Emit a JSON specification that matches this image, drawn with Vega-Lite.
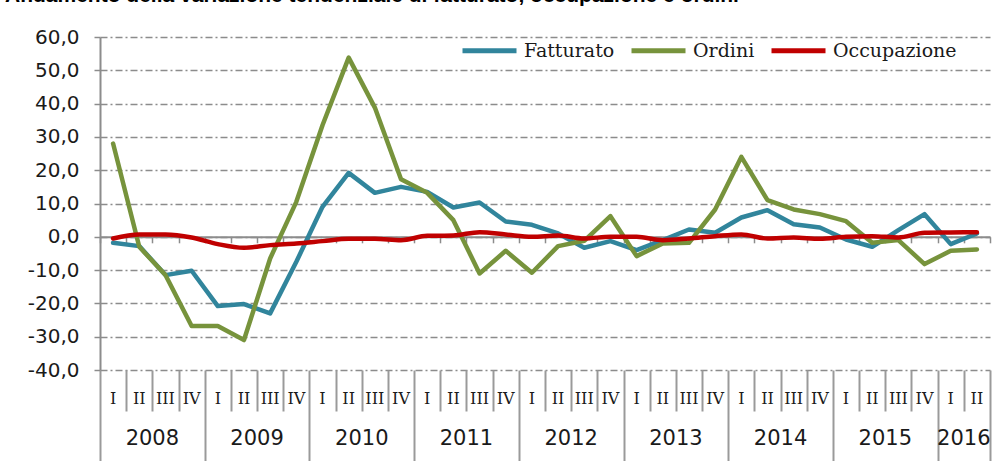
{
  "$schema": "https://vega.github.io/schema/vega-lite/v6.json",
  "width": 890,
  "height": 333,
  "autosize": {"type": "none"},
  "padding": {"left": 100, "top": 37, "right": 16, "bottom": 91},
  "background": "white",
  "config": {
    "view": {"stroke": null},
    "locale": {"number": {"decimal": ",", "thousands": ".", "grouping": [3], "currency": ["", " €"], "minus": "-"}}
  },
  "title": {
    "text": "Andamento della variazione tendenziale di fatturato, occupazione e ordini",
    "anchor": "start",
    "frame": "group",
    "dx": -95,
    "dy": 16,
    "offset": 14,
    "baseline": "alphabetic",
    "font": "Liberation Sans",
    "fontSize": 21,
    "fontWeight": "bold",
    "color": "#000000"
  },
  "datasets": {
    "serie": [
      {"q": "2008 I", "serie": "Fatturato", "v": -1.8},
      {"q": "2008 II", "serie": "Fatturato", "v": -2.8},
      {"q": "2008 III", "serie": "Fatturato", "v": -11.5},
      {"q": "2008 IV", "serie": "Fatturato", "v": -10.2},
      {"q": "2009 I", "serie": "Fatturato", "v": -20.8},
      {"q": "2009 II", "serie": "Fatturato", "v": -20.2},
      {"q": "2009 III", "serie": "Fatturato", "v": -23.0},
      {"q": "2009 IV", "serie": "Fatturato", "v": -7.5},
      {"q": "2010 I", "serie": "Fatturato", "v": 9.0},
      {"q": "2010 II", "serie": "Fatturato", "v": 19.2},
      {"q": "2010 III", "serie": "Fatturato", "v": 13.2},
      {"q": "2010 IV", "serie": "Fatturato", "v": 15.0},
      {"q": "2011 I", "serie": "Fatturato", "v": 13.5},
      {"q": "2011 II", "serie": "Fatturato", "v": 8.8},
      {"q": "2011 III", "serie": "Fatturato", "v": 10.3},
      {"q": "2011 IV", "serie": "Fatturato", "v": 4.6},
      {"q": "2012 I", "serie": "Fatturato", "v": 3.6},
      {"q": "2012 II", "serie": "Fatturato", "v": 1.0},
      {"q": "2012 III", "serie": "Fatturato", "v": -3.3},
      {"q": "2012 IV", "serie": "Fatturato", "v": -1.3},
      {"q": "2013 I", "serie": "Fatturato", "v": -4.0},
      {"q": "2013 II", "serie": "Fatturato", "v": -1.0},
      {"q": "2013 III", "serie": "Fatturato", "v": 2.2},
      {"q": "2013 IV", "serie": "Fatturato", "v": 1.2},
      {"q": "2014 I", "serie": "Fatturato", "v": 5.8},
      {"q": "2014 II", "serie": "Fatturato", "v": 8.0},
      {"q": "2014 III", "serie": "Fatturato", "v": 3.8},
      {"q": "2014 IV", "serie": "Fatturato", "v": 2.8},
      {"q": "2015 I", "serie": "Fatturato", "v": -0.8},
      {"q": "2015 II", "serie": "Fatturato", "v": -3.0},
      {"q": "2015 III", "serie": "Fatturato", "v": 2.0},
      {"q": "2015 IV", "serie": "Fatturato", "v": 6.8},
      {"q": "2016 I", "serie": "Fatturato", "v": -2.2},
      {"q": "2016 II", "serie": "Fatturato", "v": 1.0},
      {"q": "2008 I", "serie": "Ordini", "v": 28.0},
      {"q": "2008 II", "serie": "Ordini", "v": -3.0},
      {"q": "2008 III", "serie": "Ordini", "v": -11.5},
      {"q": "2008 IV", "serie": "Ordini", "v": -26.8},
      {"q": "2009 I", "serie": "Ordini", "v": -26.8},
      {"q": "2009 II", "serie": "Ordini", "v": -31.0},
      {"q": "2009 III", "serie": "Ordini", "v": -6.5},
      {"q": "2009 IV", "serie": "Ordini", "v": 10.5},
      {"q": "2010 I", "serie": "Ordini", "v": 33.5},
      {"q": "2010 II", "serie": "Ordini", "v": 53.8},
      {"q": "2010 III", "serie": "Ordini", "v": 38.8},
      {"q": "2010 IV", "serie": "Ordini", "v": 17.3},
      {"q": "2011 I", "serie": "Ordini", "v": 13.2},
      {"q": "2011 II", "serie": "Ordini", "v": 5.0},
      {"q": "2011 III", "serie": "Ordini", "v": -11.0},
      {"q": "2011 IV", "serie": "Ordini", "v": -4.2},
      {"q": "2012 I", "serie": "Ordini", "v": -10.8},
      {"q": "2012 II", "serie": "Ordini", "v": -2.8},
      {"q": "2012 III", "serie": "Ordini", "v": -1.2},
      {"q": "2012 IV", "serie": "Ordini", "v": 6.2},
      {"q": "2013 I", "serie": "Ordini", "v": -5.8},
      {"q": "2013 II", "serie": "Ordini", "v": -2.0},
      {"q": "2013 III", "serie": "Ordini", "v": -1.8},
      {"q": "2013 IV", "serie": "Ordini", "v": 8.2},
      {"q": "2014 I", "serie": "Ordini", "v": 24.0},
      {"q": "2014 II", "serie": "Ordini", "v": 11.0},
      {"q": "2014 III", "serie": "Ordini", "v": 8.2},
      {"q": "2014 IV", "serie": "Ordini", "v": 6.8},
      {"q": "2015 I", "serie": "Ordini", "v": 4.7},
      {"q": "2015 II", "serie": "Ordini", "v": -1.8},
      {"q": "2015 III", "serie": "Ordini", "v": -1.0},
      {"q": "2015 IV", "serie": "Ordini", "v": -8.2},
      {"q": "2016 I", "serie": "Ordini", "v": -4.2},
      {"q": "2016 II", "serie": "Ordini", "v": -3.8},
      {"q": "2008 I", "serie": "Occupazione", "v": -0.5},
      {"q": "2008 II", "serie": "Occupazione", "v": 0.7},
      {"q": "2008 III", "serie": "Occupazione", "v": 0.7},
      {"q": "2008 IV", "serie": "Occupazione", "v": -0.2},
      {"q": "2009 I", "serie": "Occupazione", "v": -2.2},
      {"q": "2009 II", "serie": "Occupazione", "v": -3.3},
      {"q": "2009 III", "serie": "Occupazione", "v": -2.5},
      {"q": "2009 IV", "serie": "Occupazione", "v": -2.0},
      {"q": "2010 I", "serie": "Occupazione", "v": -1.3},
      {"q": "2010 II", "serie": "Occupazione", "v": -0.6},
      {"q": "2010 III", "serie": "Occupazione", "v": -0.6},
      {"q": "2010 IV", "serie": "Occupazione", "v": -1.0},
      {"q": "2011 I", "serie": "Occupazione", "v": 0.3},
      {"q": "2011 II", "serie": "Occupazione", "v": 0.4},
      {"q": "2011 III", "serie": "Occupazione", "v": 1.4},
      {"q": "2011 IV", "serie": "Occupazione", "v": 0.7},
      {"q": "2012 I", "serie": "Occupazione", "v": 0.0},
      {"q": "2012 II", "serie": "Occupazione", "v": 0.4},
      {"q": "2012 III", "serie": "Occupazione", "v": -0.5},
      {"q": "2012 IV", "serie": "Occupazione", "v": 0.0},
      {"q": "2013 I", "serie": "Occupazione", "v": 0.0},
      {"q": "2013 II", "serie": "Occupazione", "v": -1.0},
      {"q": "2013 III", "serie": "Occupazione", "v": -0.5},
      {"q": "2013 IV", "serie": "Occupazione", "v": 0.2},
      {"q": "2014 I", "serie": "Occupazione", "v": 0.7},
      {"q": "2014 II", "serie": "Occupazione", "v": -0.5},
      {"q": "2014 III", "serie": "Occupazione", "v": -0.2},
      {"q": "2014 IV", "serie": "Occupazione", "v": -0.6},
      {"q": "2015 I", "serie": "Occupazione", "v": 0.0},
      {"q": "2015 II", "serie": "Occupazione", "v": 0.2},
      {"q": "2015 III", "serie": "Occupazione", "v": -0.2},
      {"q": "2015 IV", "serie": "Occupazione", "v": 1.2},
      {"q": "2016 I", "serie": "Occupazione", "v": 1.3},
      {"q": "2016 II", "serie": "Occupazione", "v": 1.4}
    ]
  },
  "data": {"name": "serie"},
  "resolve": {"axis": {"x": "independent", "y": "independent"}},
  "layer": [
    {
      "transform": [{"filter": "datum.serie != 'Occupazione'"}],
      "mark": {"type": "line", "strokeWidth": 4.5, "strokeCap": "round", "strokeJoin": "round"},
      "encoding": {
        "x": {
          "field": "q", "type": "ordinal",
          "scale": {"type": "band", "paddingInner": 0, "paddingOuter": 0},
          "axis": {
            "orient": "bottom", "title": null, "grid": false, "domain": false,
            "ticks": false, "tickSize": 0, "labelOverlap": false, "labelAngle": 0,
            "labelExpr": "split(datum.value, ' ')[1]",
            "labelPadding": 28.5, "labelBaseline": "middle", "labelAlign": "center",
            "labelFont": "DejaVu Serif", "labelFontSize": 16, "labelColor": "#1a1a1a"
          }
        },
        "y": {
          "field": "v", "type": "quantitative",
          "scale": {"domain": [-40, 60], "nice": false, "zero": false},
          "axis": {
            "orient": "left", "title": null,
            "values": [-40, -30, -20, -10, 0, 10, 20, 30, 40, 50, 60],
            "format": ".1f",
            "grid": true, "gridColor": "#8c8c8c", "gridWidth": 1.5, "gridDash": [7, 3, 2, 3],
            "domain": true, "domainColor": "#8c8c8c", "domainWidth": 2,
            "ticks": true, "tickSize": 6, "tickColor": "#8c8c8c", "tickWidth": 1.5,
            "labelFont": "DejaVu Sans", "labelFontSize": 20, "labelColor": "#1a1a1a", "labelPadding": 15
          }
        },
        "color": {
          "field": "serie", "type": "nominal",
          "scale": {"domain": ["Fatturato", "Ordini", "Occupazione"], "range": ["#31859C", "#77933C", "#C00000"]},
          "legend": {
            "orient": "none", "legendX": 360, "legendY": -16, "direction": "horizontal",
            "title": null, "symbolType": "stroke", "symbolSize": 2916, "symbolStrokeWidth": 5,
            "labelFont": "DejaVu Serif", "labelFontSize": 19, "labelColor": "#1a1a1a",
            "labelOffset": 5, "columnPadding": 6, "padding": 0, "labelLimit": 300
          }
        }
      }
    },
    {
      "transform": [{"filter": "datum.serie == 'Occupazione'"}],
      "mark": {"type": "line", "strokeWidth": 4.5, "strokeCap": "round", "strokeJoin": "round", "interpolate": "monotone"},
      "encoding": {
        "x": {"field": "q", "type": "ordinal", "axis": null},
        "y": {"field": "v", "type": "quantitative", "axis": null},
        "color": {"field": "serie", "type": "nominal"}
      }
    },
    {
      "transform": [{"filter": "datum.serie == 'Fatturato'"}],
      "mark": {"type": "point", "opacity": 0, "size": 0},
      "encoding": {
        "x": {
          "field": "q", "type": "ordinal",
          "axis": {
            "orient": "bottom", "offset": -133.2, "title": null,
            "labels": false, "grid": false, "tickBand": "extent",
            "ticks": true, "tickSize": 6, "tickColor": "#8c8c8c", "tickWidth": 1.5,
            "domain": true, "domainColor": "#8c8c8c", "domainWidth": 2
          }
        },
        "y": {"field": "v", "type": "quantitative", "axis": null}
      }
    },
    {
      "transform": [{"filter": "datum.serie == 'Fatturato'"}],
      "mark": {"type": "point", "opacity": 0, "size": 0},
      "encoding": {
        "x": {
          "field": "q", "type": "ordinal",
          "axis": {
            "orient": "bottom", "title": null, "labels": false, "grid": false,
            "domain": false, "tickBand": "extent", "ticks": true,
            "tickSize": {"condition": {"test": "datum.extra || indexof(datum.value, 'IV') >= 0 || datum.value == '2016 II'", "value": 92}, "value": 41},
            "tickColor": "#9a9a9a", "tickWidth": 2
          }
        },
        "y": {"field": "v", "type": "quantitative", "axis": null}
      }
    },
    {
      "transform": [{"filter": "datum.serie == 'Fatturato'"}],
      "mark": {"type": "point", "opacity": 0, "size": 0},
      "encoding": {
        "x": {
          "field": "q", "type": "ordinal",
          "axis": {
            "orient": "bottom", "title": null, "grid": false, "domain": false,
            "ticks": false, "tickSize": 0, "labelOverlap": false, "labelAngle": 0,
            "labelExpr": "(split(datum.value, ' ')[1] == 'III' || datum.value == '2016 II') ? split(datum.value, ' ')[0] : ''",
            "labelOffset": -13.09, "labelPadding": 68.5, "labelBaseline": "middle", "labelAlign": "center",
            "labelFont": "DejaVu Sans", "labelFontSize": 21, "labelColor": "#1a1a1a"
          }
        },
        "y": {"field": "v", "type": "quantitative", "axis": null}
      }
    }
  ]
}
